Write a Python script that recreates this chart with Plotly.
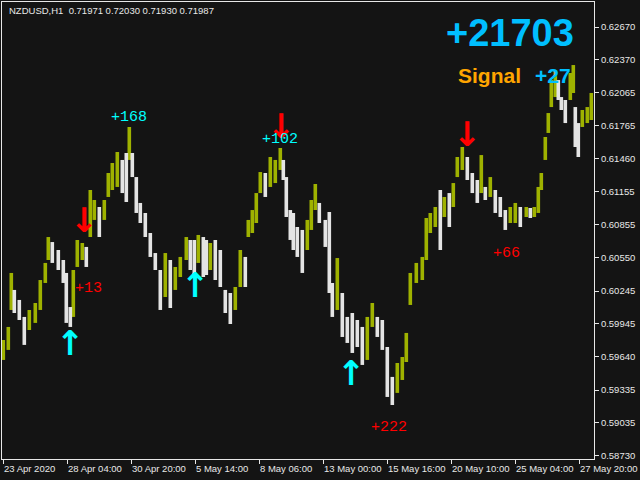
import plotly.graph_objects as go

# ---- price data (H1 bars, sampled), bar index from 23 Apr 2020 00:00 ----
bar_index = [0, 5, 8, 11, 16, 21, 26, 32, 37, 42, 45, 49, 55, 60, 63, 67, 70, 74, 79, 83,
             87, 91, 96, 101, 105, 109, 114, 119, 123, 126, 129, 133, 137, 142, 147, 152, 157, 162, 167, 172,
             177, 183, 187, 191, 195, 200, 203, 207, 212, 217, 222, 227, 232, 237, 242, 245, 249, 253, 257, 262,
             267, 272, 277, 280, 283, 287, 290, 294, 299, 304, 308, 312, 316, 322, 326, 329, 334, 339, 344, 349,
             354, 359, 364, 369, 374, 379, 384, 389, 394, 399, 403, 407, 413, 419, 423, 427, 432, 437, 441, 446,
             450, 454, 459, 464, 469, 474, 478, 482, 487, 492, 497, 502, 507, 512, 517, 523, 527, 531, 535, 538,
             542, 545, 548, 552, 555, 558, 562, 567, 570, 572, 575, 579, 584, 588]
bar_high = [0.59795, 0.59915, 0.60411, 0.60255, 0.60163, 0.60007, 0.60071, 0.60135, 0.60346, 0.60503,
            0.60741, 0.60695, 0.60622, 0.60530, 0.60411, 0.60098, 0.60438, 0.60714, 0.60686, 0.60650,
            0.61173, 0.61081, 0.61017, 0.61081, 0.61329, 0.61421, 0.61522, 0.61449, 0.61513, 0.61752,
            0.61513, 0.61292, 0.61054, 0.60962, 0.60778, 0.60594, 0.60438, 0.60594, 0.60530, 0.60466,
            0.60558, 0.60741, 0.60714, 0.60714, 0.60760, 0.60741, 0.60714, 0.60686, 0.60714, 0.60622,
            0.60255, 0.60227, 0.60282, 0.60622, 0.60558, 0.60898, 0.60989, 0.61145, 0.61338, 0.61329,
            0.61476, 0.61449, 0.61559, 0.61449, 0.61292, 0.60989, 0.60962, 0.60833, 0.60806, 0.60898,
            0.61081, 0.61228, 0.61054, 0.60898, 0.60971, 0.60319, 0.60548, 0.60227, 0.60007, 0.60043,
            0.59979, 0.59915, 0.60007, 0.60135, 0.60007, 0.59979, 0.59731, 0.59456, 0.59584, 0.59639,
            0.59860, 0.60411, 0.60503, 0.60558, 0.60916, 0.60962, 0.61017, 0.61173, 0.61109, 0.61145,
            0.61237, 0.61476, 0.61568, 0.61476, 0.61329, 0.61265, 0.61494, 0.61201, 0.61292, 0.61173,
            0.61109, 0.60989, 0.61017, 0.61054, 0.61017, 0.61017, 0.61008, 0.61017, 0.61201, 0.61329,
            0.61660, 0.61880, 0.62183, 0.62275, 0.62183, 0.62027, 0.62000, 0.62248, 0.62321, 0.61935,
            0.61788, 0.61908, 0.61935, 0.62064]
bar_low = [0.59612, 0.59704, 0.60071, 0.60043, 0.59979, 0.59750, 0.59887, 0.59952, 0.60071, 0.60319,
           0.60530, 0.60503, 0.60438, 0.60319, 0.59952, 0.59915, 0.60007, 0.60466, 0.60530, 0.60466,
           0.60741, 0.60898, 0.60741, 0.60898, 0.61109, 0.61173, 0.61201, 0.61145, 0.61063, 0.61449,
           0.61292, 0.60962, 0.60870, 0.60741, 0.60558, 0.60438, 0.60071, 0.60190, 0.60089, 0.60255,
           0.60374, 0.60530, 0.60438, 0.60374, 0.60503, 0.60374, 0.60392, 0.60438, 0.60346, 0.60282,
           0.60043, 0.59942, 0.60071, 0.60282, 0.60282, 0.60741, 0.60778, 0.60870, 0.61145, 0.61109,
           0.61201, 0.61237, 0.61357, 0.61265, 0.60925, 0.60714, 0.60622, 0.60558, 0.60411, 0.60622,
           0.60806, 0.60989, 0.60870, 0.60650, 0.60227, 0.60007, 0.60071, 0.59823, 0.59768, 0.59676,
           0.59731, 0.59566, 0.59612, 0.59915, 0.59823, 0.59704, 0.59272, 0.59198, 0.59309, 0.59428,
           0.59593, 0.60117, 0.60319, 0.60346, 0.60530, 0.60778, 0.60833, 0.60622, 0.60925, 0.60833,
           0.61017, 0.61292, 0.61357, 0.61265, 0.61145, 0.61054, 0.61145, 0.61081, 0.61109, 0.60962,
           0.60925, 0.60806, 0.60870, 0.60870, 0.60833, 0.60925, 0.60916, 0.60925, 0.60962, 0.61173,
           0.61449, 0.61697, 0.61935, 0.62027, 0.62000, 0.61908, 0.61788, 0.62000, 0.62064, 0.61568,
           0.61476, 0.61752, 0.61788, 0.61816]

# ---- axes ----
y_tick_labels = ["0.62670", "0.62370", "0.62065", "0.61765", "0.61460", "0.61155", "0.60855",
                 "0.60550", "0.60245", "0.59945", "0.59640", "0.59335", "0.59035", "0.58730"]
x_tick_bars = [0, 64, 128, 192, 256, 320, 384, 448, 512, 576]
x_tick_labels = ["23 Apr 2020", "28 Apr 04:00", "30 Apr 20:00", "5 May 14:00", "8 May 06:00",
                 "13 May 00:00", "15 May 16:00", "20 May 10:00", "25 May 04:00", "27 May 20:00"]

# ---- signals ----
buy_arrow_bar = [67, 192, 348]
buy_arrow_price = [0.59768, 0.60305, 0.59492]
sell_arrow_bar = [81, 278, 464]
sell_arrow_price = [0.60902, 0.61761, 0.61687]
profit_text = ["+168", "+102", "+13", "+66", "+222"]
profit_bar = [126, 277, 85, 503, 386]
profit_price = [0.61843, 0.61641, 0.60264, 0.60594, 0.58987]
profit_kind = ["buy", "buy", "sell", "sell", "sell"]

header_text = "NZDUSD,H1\u00a0\u00a00.71971 0.72030 0.71930 0.71987"
total_text = "+21703"
signal_word = "Signal"
signal_value = "+27"

BG = "#141414"
UP = "#9fb200"
DOWN = "#e4e4e4"
FG = "#e8e8e8"
CYAN = "#00ffff"
RED = "#ff0000"
SKY = "#00bfff"

X0, X1 = -1.3, 590.7

up_x, up_y, dn_x, dn_y = [], [], [], []
prev_mid = None
for b, h, l in zip(bar_index, bar_high, bar_low):
    mid = (h + l) / 2
    if prev_mid is None or mid >= prev_mid:
        up_x += [b, b, None]; up_y += [l, h, None]
    else:
        dn_x += [b, b, None]; dn_y += [l, h, None]
    prev_mid = mid

fig = go.Figure()
fig.add_trace(go.Scatter(x=up_x, y=up_y, mode="lines", line=dict(color=UP, width=3.6),
                         hoverinfo="skip", showlegend=False))
fig.add_trace(go.Scatter(x=dn_x, y=dn_y, mode="lines", line=dict(color=DOWN, width=3.6),
                         hoverinfo="skip", showlegend=False))

ann = []
for b, p in zip(buy_arrow_bar, buy_arrow_price):
    ann.append(dict(x=b, y=p, xref="x", yref="y", text="<b>\u2191</b>", showarrow=False,
                    font=dict(family="DejaVu Sans", size=34, color=CYAN), xanchor="center", yanchor="middle"))
for b, p in zip(sell_arrow_bar, sell_arrow_price):
    ann.append(dict(x=b, y=p, xref="x", yref="y", text="<b>\u2193</b>", showarrow=False,
                    font=dict(family="DejaVu Sans", size=34, color=RED), xanchor="center", yanchor="middle"))
for t, b, p, k in zip(profit_text, profit_bar, profit_price, profit_kind):
    ann.append(dict(x=b, y=p, xref="x", yref="y", text=t, showarrow=False,
                    font=dict(family="Liberation Mono", size=15, color=CYAN if k == "buy" else RED),
                    xanchor="center", yanchor="middle"))

W, H = 640, 480
ML, MR, MT, MB = 2, 46, 2, 21
pw, ph = W - ML - MR, H - MT - MB

def px(x):
    return (x - ML) / pw

def py(y):
    return (H - MB - y) / ph

def bar_paper(b):
    return (b - X0) / (X1 - X0)

ann.append(dict(x=px(7), y=py(10.5), xref="paper", yref="paper", text=header_text, showarrow=False,
                font=dict(family="Liberation Sans", size=9.5, color=FG), xanchor="left", yanchor="middle"))
ann.append(dict(x=px(509.5), y=py(33), xref="paper", yref="paper", text="<b>" + total_text + "</b>",
                showarrow=False, font=dict(family="Liberation Sans", size=38, color=SKY),
                xanchor="center", yanchor="middle"))
ann.append(dict(x=px(489), y=py(75), xref="paper", yref="paper", text="<b>" + signal_word + "</b>",
                showarrow=False, font=dict(family="Liberation Sans", size=21, color="#ffa500"),
                xanchor="center", yanchor="middle"))
ann.append(dict(x=px(553), y=py(75), xref="paper", yref="paper", text="<b>" + signal_value + "</b>",
                showarrow=False, font=dict(family="Liberation Sans", size=21, color=SKY),
                xanchor="center", yanchor="middle"))
for b, t in zip(x_tick_bars, x_tick_labels):
    ann.append(dict(x=bar_paper(b) - 1.5 / pw, y=py(469), xref="paper", yref="paper", text=t,
                    showarrow=False, font=dict(family="Liberation Sans", size=9.5, color=FG),
                    xanchor="left", yanchor="middle"))

fig.update_layout(
    width=W, height=H,
    margin=dict(l=ML, r=MR, t=MT, b=MB, autoexpand=False),
    paper_bgcolor=BG, plot_bgcolor=BG,
    showlegend=False, hovermode=False,
    annotations=ann,
    xaxis=dict(range=[X0, X1], tickvals=x_tick_bars, showticklabels=False,
               ticks="outside", ticklen=4, tickcolor=FG, showgrid=False, zeroline=False,
               showline=True, linecolor=FG, linewidth=1, mirror=True, fixedrange=True),
    yaxis=dict(range=[0.58702, 0.62900], side="right",
               tickvals=[float(v) for v in y_tick_labels], ticktext=y_tick_labels,
               ticks="outside", ticklen=4, tickcolor=FG,
               tickfont=dict(family="Liberation Sans", size=9.5, color=FG),
               showgrid=False, zeroline=False,
               showline=True, linecolor=FG, linewidth=1, mirror=True, fixedrange=True),
)

fig.write_html("out.html", config={"displayModeBar": False},
               post_script="document.body.style.margin='0';document.body.style.padding='0';")
